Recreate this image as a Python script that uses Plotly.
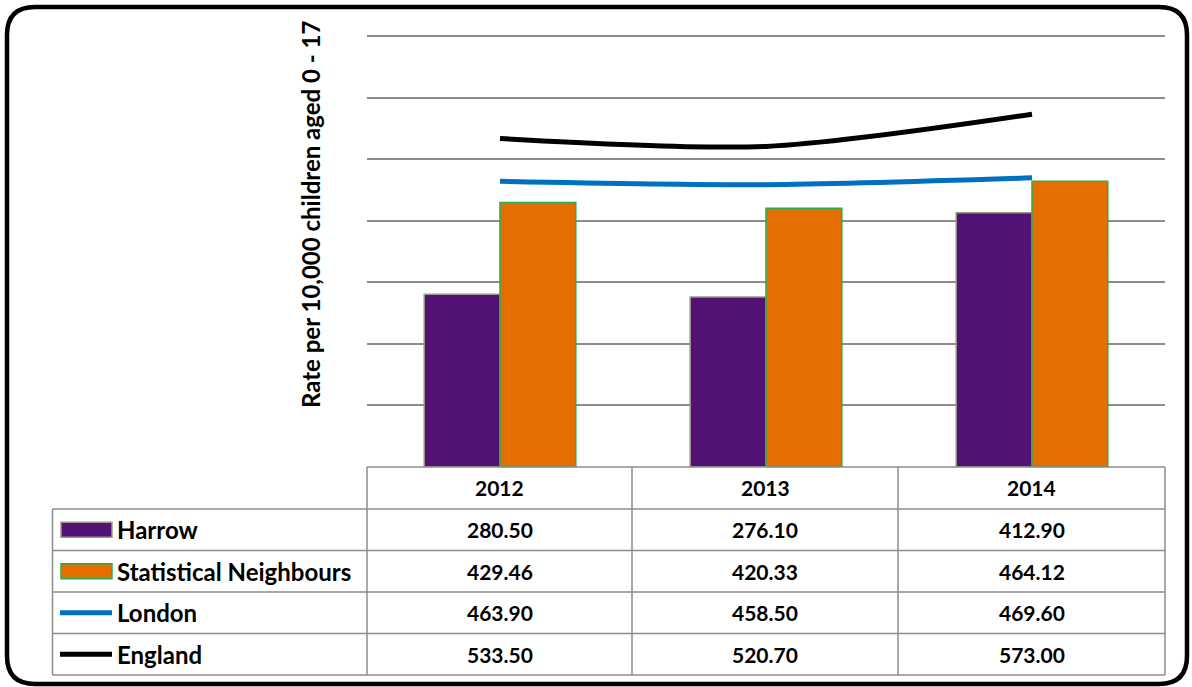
import plotly.graph_objects as go

# ---- data ----
years = ["2012", "2013", "2014"]
harrow = [280.50, 276.10, 412.90]
stat_neigh = [429.46, 420.33, 464.12]
london = [463.90, 458.50, 469.60]
england = [533.50, 520.70, 573.00]
series_names = ["Harrow", "Statistical Neighbours", "London", "England"]
y_title = "Rate per 10,000 children aged 0 - 17"

W, H = 1192, 687
FONT = "Lato"
C_HARROW = "#521175"
C_HARROW_EDGE = "#9c9883"
C_SN = "#e46f00"
C_SN_EDGE = "#22b14c"
C_LONDON = "#0070c0"
C_ENGLAND = "#000000"
GRID = "#8c8c8c"

def px(x):
    return x / W

def py(y):
    return 1 - y / H

plot_l, plot_r, plot_t, plot_b = 367, 1165, 36, 467
y_max = 700
# extend range slightly so the top gridline is drawn
ext = 2.0
px_per_unit = (plot_b - plot_t) / y_max
top_px = plot_t - ext * px_per_unit

fig = go.Figure()
fig.add_trace(go.Bar(x=years, y=harrow, name=series_names[0], marker=dict(color=C_HARROW, line=dict(color=C_HARROW_EDGE, width=1.5))))
fig.add_trace(go.Bar(x=years, y=stat_neigh, name=series_names[1], marker=dict(color=C_SN, line=dict(color=C_SN_EDGE, width=1.5))))
fig.add_trace(go.Scatter(x=years, y=london, name=series_names[2], mode="lines", line=dict(color=C_LONDON, width=5, shape="spline", smoothing=0.8)))
fig.add_trace(go.Scatter(x=years, y=england, name=series_names[3], mode="lines", line=dict(color=C_ENGLAND, width=5, shape="spline", smoothing=0.8)))

shapes = []
# rounded outer border
r = 28
x0, y0, x1, y1 = 7, 7, 1187, 684
rx, ry = r / W, r / H
path = (
    f"M {px(x0)+rx},{py(y0)} L {px(x1)-rx},{py(y0)} Q {px(x1)},{py(y0)} {px(x1)},{py(y0)-ry} "
    f"L {px(x1)},{py(y1)+ry} Q {px(x1)},{py(y1)} {px(x1)-rx},{py(y1)} "
    f"L {px(x0)+rx},{py(y1)} Q {px(x0)},{py(y1)} {px(x0)},{py(y1)+ry} "
    f"L {px(x0)},{py(y0)-ry} Q {px(x0)},{py(y0)} {px(x0)+rx},{py(y0)} Z"
)
shapes.append(dict(type="path", xref="paper", yref="paper", path=path, line=dict(color="black", width=4.5)))

# table grid
row_y = [467, 509, 550.5, 592, 633.5, 675]
col_x = [52.5, 367, 632, 898, 1165]
tl = dict(color=GRID, width=1.5)
shapes.append(dict(type="line", xref="paper", yref="paper", x0=px(367), x1=px(1165), y0=py(row_y[0]), y1=py(row_y[0]), line=tl))
for yy in row_y[1:]:
    shapes.append(dict(type="line", xref="paper", yref="paper", x0=px(col_x[0]), x1=px(1165), y0=py(yy), y1=py(yy), line=tl))
for cx in col_x:
    top = row_y[1] if cx == col_x[0] else row_y[0]
    shapes.append(dict(type="line", xref="paper", yref="paper", x0=px(cx), x1=px(cx), y0=py(top), y1=py(row_y[-1]), line=tl))

# legend keys in table
key_x0, key_x1 = 61, 112
for i, (fc, ec) in enumerate([(C_HARROW, C_HARROW_EDGE), (C_SN, C_SN_EDGE)]):
    cy = (row_y[i + 1] + row_y[i + 2]) / 2
    shapes.append(dict(type="rect", xref="paper", yref="paper", x0=px(key_x0), x1=px(key_x1), y0=py(cy - 7.5), y1=py(cy + 7.5), fillcolor=fc, line=dict(color=ec, width=1.5)))
for i, lc in enumerate([C_LONDON, C_ENGLAND]):
    cy = (row_y[i + 3] + row_y[i + 4]) / 2
    shapes.append(dict(type="line", xref="paper", yref="paper", x0=px(60), x1=px(112), y0=py(cy), y1=py(cy), line=dict(color=lc, width=5)))

annotations = []
vf = dict(family=FONT, size=21, color="black")
lf = dict(family=FONT, size=24, color="black")
col_c = [(col_x[i + 1] + col_x[i + 2]) / 2 for i in range(3)]
for j, yr in enumerate(years):
    annotations.append(dict(x=px(col_c[j]), y=py((row_y[0] + row_y[1]) / 2), xref="paper", yref="paper", text=f"<b>{yr}</b>", showarrow=False, font=vf, xanchor="center", yanchor="middle"))
all_vals = [harrow, stat_neigh, london, england]
for i, name in enumerate(series_names):
    cy = (row_y[i + 1] + row_y[i + 2]) / 2
    annotations.append(dict(x=px(115), y=py(cy), xref="paper", yref="paper", text=f"<b>{name}</b>", showarrow=False, font=lf, xanchor="left", yanchor="middle"))
    for j, v in enumerate(all_vals[i]):
        annotations.append(dict(x=px(col_c[j]), y=py(cy), xref="paper", yref="paper", text=f"<b>{v:.2f}</b>", showarrow=False, font=vf, xanchor="center", yanchor="middle"))
annotations.append(dict(x=px(310), y=py(215), xref="paper", yref="paper", text=f"<b>{y_title}</b>", textangle=-90, showarrow=False, font=lf, xanchor="center", yanchor="middle"))

fig.update_layout(
    width=W, height=H,
    margin=dict(l=0, r=0, t=0, b=0),
    paper_bgcolor="white", plot_bgcolor="white",
    barmode="group", bargap=0.43, bargroupgap=0,
    showlegend=False,
    shapes=shapes, annotations=annotations,
    font=dict(family=FONT),
    xaxis=dict(domain=[px(plot_l), px(plot_r)], type="category", showticklabels=False, showgrid=False, zeroline=False, ticks="", range=[-0.5, 2.5]),
    yaxis=dict(domain=[py(plot_b), py(top_px)], range=[0, y_max + ext], tick0=0, dtick=100, showticklabels=False, showgrid=True, gridcolor=GRID, gridwidth=1.5, zeroline=False, ticks=""),
)

fig.write_html(
    "out.html",
    config={"displayModeBar": False},
    post_script="document.body.style.margin='0px';document.body.style.overflow='hidden';",
)
